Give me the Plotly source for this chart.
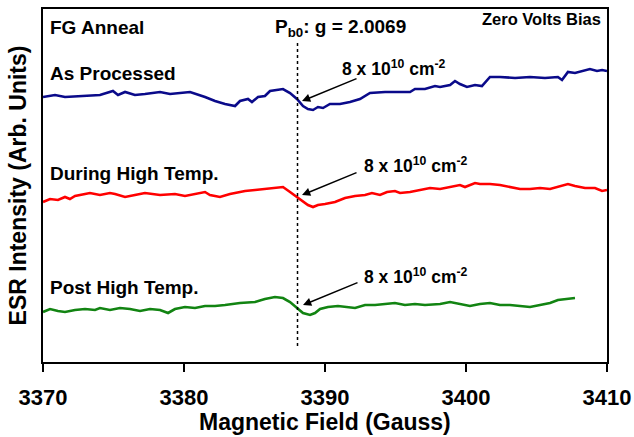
import plotly.graph_objects as go

# ---- data (Magnetic field in Gauss, ESR intensity in arbitrary units) ----
field_as = [3370.00, 3370.85, 3371.56, 3372.62, 3374.04, 3374.96, 3375.32, 3375.82, 3376.52, 3377.23,
            3378.30, 3379.01, 3380.43, 3381.49, 3382.20, 3382.91, 3383.62, 3383.97, 3384.54, 3384.82,
            3385.25, 3385.74, 3386.10, 3387.02, 3387.52, 3388.01, 3388.44, 3388.79, 3389.15, 3389.50,
            3389.86, 3390.35, 3391.06, 3391.77, 3392.48, 3393.19, 3394.26, 3395.32, 3396.03, 3396.38,
            3397.09, 3397.80, 3398.16, 3398.87, 3399.22, 3399.57, 3400.07, 3400.64, 3401.13, 3401.70,
            3402.41, 3403.48, 3404.54, 3405.60, 3406.52, 3406.81, 3407.23, 3407.73, 3408.23, 3408.79,
            3409.29, 3409.65, 3410.00]
esr_as = [265, 267, 265, 266, 267, 271, 267, 270, 267, 268,
          270, 268, 270, 265, 261, 258, 256, 261, 263, 260,
          265, 266, 271, 273, 269, 263, 256, 253, 252, 255,
          254, 258, 258, 260, 263, 269, 270, 270, 270, 273,
          273, 276, 275, 277, 281, 278, 275, 277, 276, 285,
          285, 284, 285, 284, 285, 282, 290, 289, 291, 293,
          291, 292, 291]

field_during = [3370.00, 3370.50, 3371.06, 3371.56, 3371.91, 3372.27, 3372.98, 3373.33, 3374.04, 3374.75,
                3375.11, 3375.82, 3376.52, 3377.23, 3378.30, 3379.36, 3380.07, 3381.13, 3381.49, 3381.84,
                3382.55, 3383.26, 3384.33, 3385.04, 3385.74, 3386.45, 3387.02, 3387.52, 3388.01, 3388.44,
                3388.79, 3389.15, 3389.50, 3390.00, 3390.71, 3391.42, 3392.13, 3392.84, 3393.33, 3393.90,
                3394.40, 3394.96, 3395.32, 3396.03, 3396.74, 3397.45, 3398.16, 3398.87, 3399.57, 3399.93,
                3400.64, 3400.99, 3401.70, 3402.41, 3403.12, 3403.83, 3404.54, 3405.25, 3405.96, 3406.67,
                3407.23, 3407.73, 3408.44, 3409.15, 3409.65, 3410.00]
esr_during = [160, 163, 162, 165, 163, 166, 168, 169, 167, 169,
              168, 165, 167, 169, 167, 168, 166, 169, 170, 167,
              165, 168, 171, 172, 173, 174, 175, 170, 165, 161,
              157, 155, 157, 158, 160, 164, 166, 167, 169, 167,
              170, 171, 169, 170, 172, 174, 173, 175, 177, 175,
              179, 178, 178, 177, 175, 173, 173, 174, 173, 176,
              178, 176, 174, 174, 171, 172]

field_post = [3370.00, 3370.50, 3371.06, 3371.56, 3372.27, 3372.98, 3373.69, 3374.04, 3374.75, 3375.46,
              3376.17, 3376.88, 3377.59, 3378.30, 3378.87, 3379.36, 3380.07, 3380.78, 3381.49, 3382.20,
              3382.91, 3383.97, 3385.04, 3385.74, 3386.45, 3387.02, 3387.52, 3388.01, 3388.44, 3388.94,
              3389.29, 3389.65, 3390.21, 3390.92, 3391.42, 3392.13, 3392.84, 3393.55, 3394.26, 3394.96,
              3395.67, 3396.38, 3397.09, 3398.16, 3398.87, 3399.57, 3400.28, 3400.99, 3401.70, 3402.41,
              3403.12, 3403.83, 3404.54, 3405.25, 3405.96, 3406.52, 3407.02, 3407.73]
esr_post = [50, 53, 51, 50, 52, 53, 52, 54, 52, 54,
            53, 51, 53, 52, 49, 53, 55, 54, 56, 56,
            57, 59, 60, 63, 65, 64, 60, 54, 49, 47,
            49, 53, 55, 56, 55, 54, 57, 57, 58, 59,
            57, 58, 57, 58, 60, 58, 56, 58, 59, 57,
            57, 56, 55, 57, 59, 62, 63, 64]

x_ticks = [3370, 3380, 3390, 3400, 3410]
pb0_field = 3388.05
series_labels = ["As Processed", "During High Temp.", "Post High Temp."]

FONT = "Arial, Liberation Sans, sans-serif"

def bold(size):
    return dict(family=FONT, size=size, color="black", weight="bold")

fig = go.Figure()
for fx, fy, col in [(field_as, esr_as, "#0a0a8a"),
                    (field_during, esr_during, "#ff0000"),
                    (field_post, esr_post, "#128412")]:
    fig.add_trace(go.Scatter(x=fx, y=fy, mode="lines",
                             line=dict(color=col, width=2.6), showlegend=False,
                             hoverinfo="skip"))

# dotted Pb0 line
fig.add_shape(type="line", x0=pb0_field, x1=pb0_field, y0=16, y1=319,
              xref="x", yref="y", line=dict(color="black", width=1.5, dash="dot"))

ann = []
def txt(x, y, s, size=19, xanchor="left"):
    ann.append(dict(x=x, y=y, xref="x", yref="y", text=s,
                    showarrow=False, xanchor=xanchor, yanchor="middle",
                    font=bold(size)))

txt(3370.35, 335, "FG Anneal")
txt(3370.35, 289, series_labels[0])
txt(3370.35, 189, series_labels[1])
txt(3370.35, 75, series_labels[2])
txt(3386.31, 334, "P<sub>b0</sub>: g = 2.0069", size=19)
txt(3409.72, 343, "Zero Volts Bias", size=16.5, xanchor="right")

density = "8 x 10<sup>10</sup> cm<sup>-2</sup>"
txt(3391.06, 294, density, size=17.5)
txt(3392.62, 197, density, size=17.5)
txt(3392.62, 86, density, size=17.5)

for hx, hy in [(3388.37, 261), (3388.37, 167), (3388.44, 57)]:
    ann.append(dict(x=hx, y=hy, xref="x", yref="y", text="", showarrow=True,
                    ax=56, ay=-23, arrowhead=2, arrowsize=1.1, arrowwidth=1.5,
                    arrowcolor="black"))

# x-axis title
ann.append(dict(x=0.5, y=-0.170, xref="paper", yref="paper",
                text="Magnetic Field (Gauss)", showarrow=False,
                xanchor="center", yanchor="middle", font=bold(23)))

fig.update_layout(
    width=634, height=437,
    margin=dict(l=43, r=27, t=9, b=75),
    paper_bgcolor="white", plot_bgcolor="white",
    font=dict(family=FONT, color="black"),
    annotations=ann,
    xaxis=dict(range=[3370, 3410], tickvals=x_ticks,
               ticktext=[str(v) for v in x_ticks],
               tickfont=bold(22),
               ticks="outside", ticklen=8, tickwidth=2, tickcolor="black",
               ticklabelstandoff=7,
               showline=True, linecolor="black", linewidth=2, mirror=True,
               showgrid=False, zeroline=False, automargin=False),
    yaxis=dict(range=[0, 353], showticklabels=False, ticks="",
               showline=True, linecolor="black", linewidth=2, mirror=True,
               showgrid=False, zeroline=False, automargin=False,
               title=dict(text="ESR Intensity (Arb. Units)",
                          font=bold(23), standoff=8)),
)

fig.write_html("out.html", config={"displayModeBar": False},
               post_script="document.body.style.margin='0px';")
